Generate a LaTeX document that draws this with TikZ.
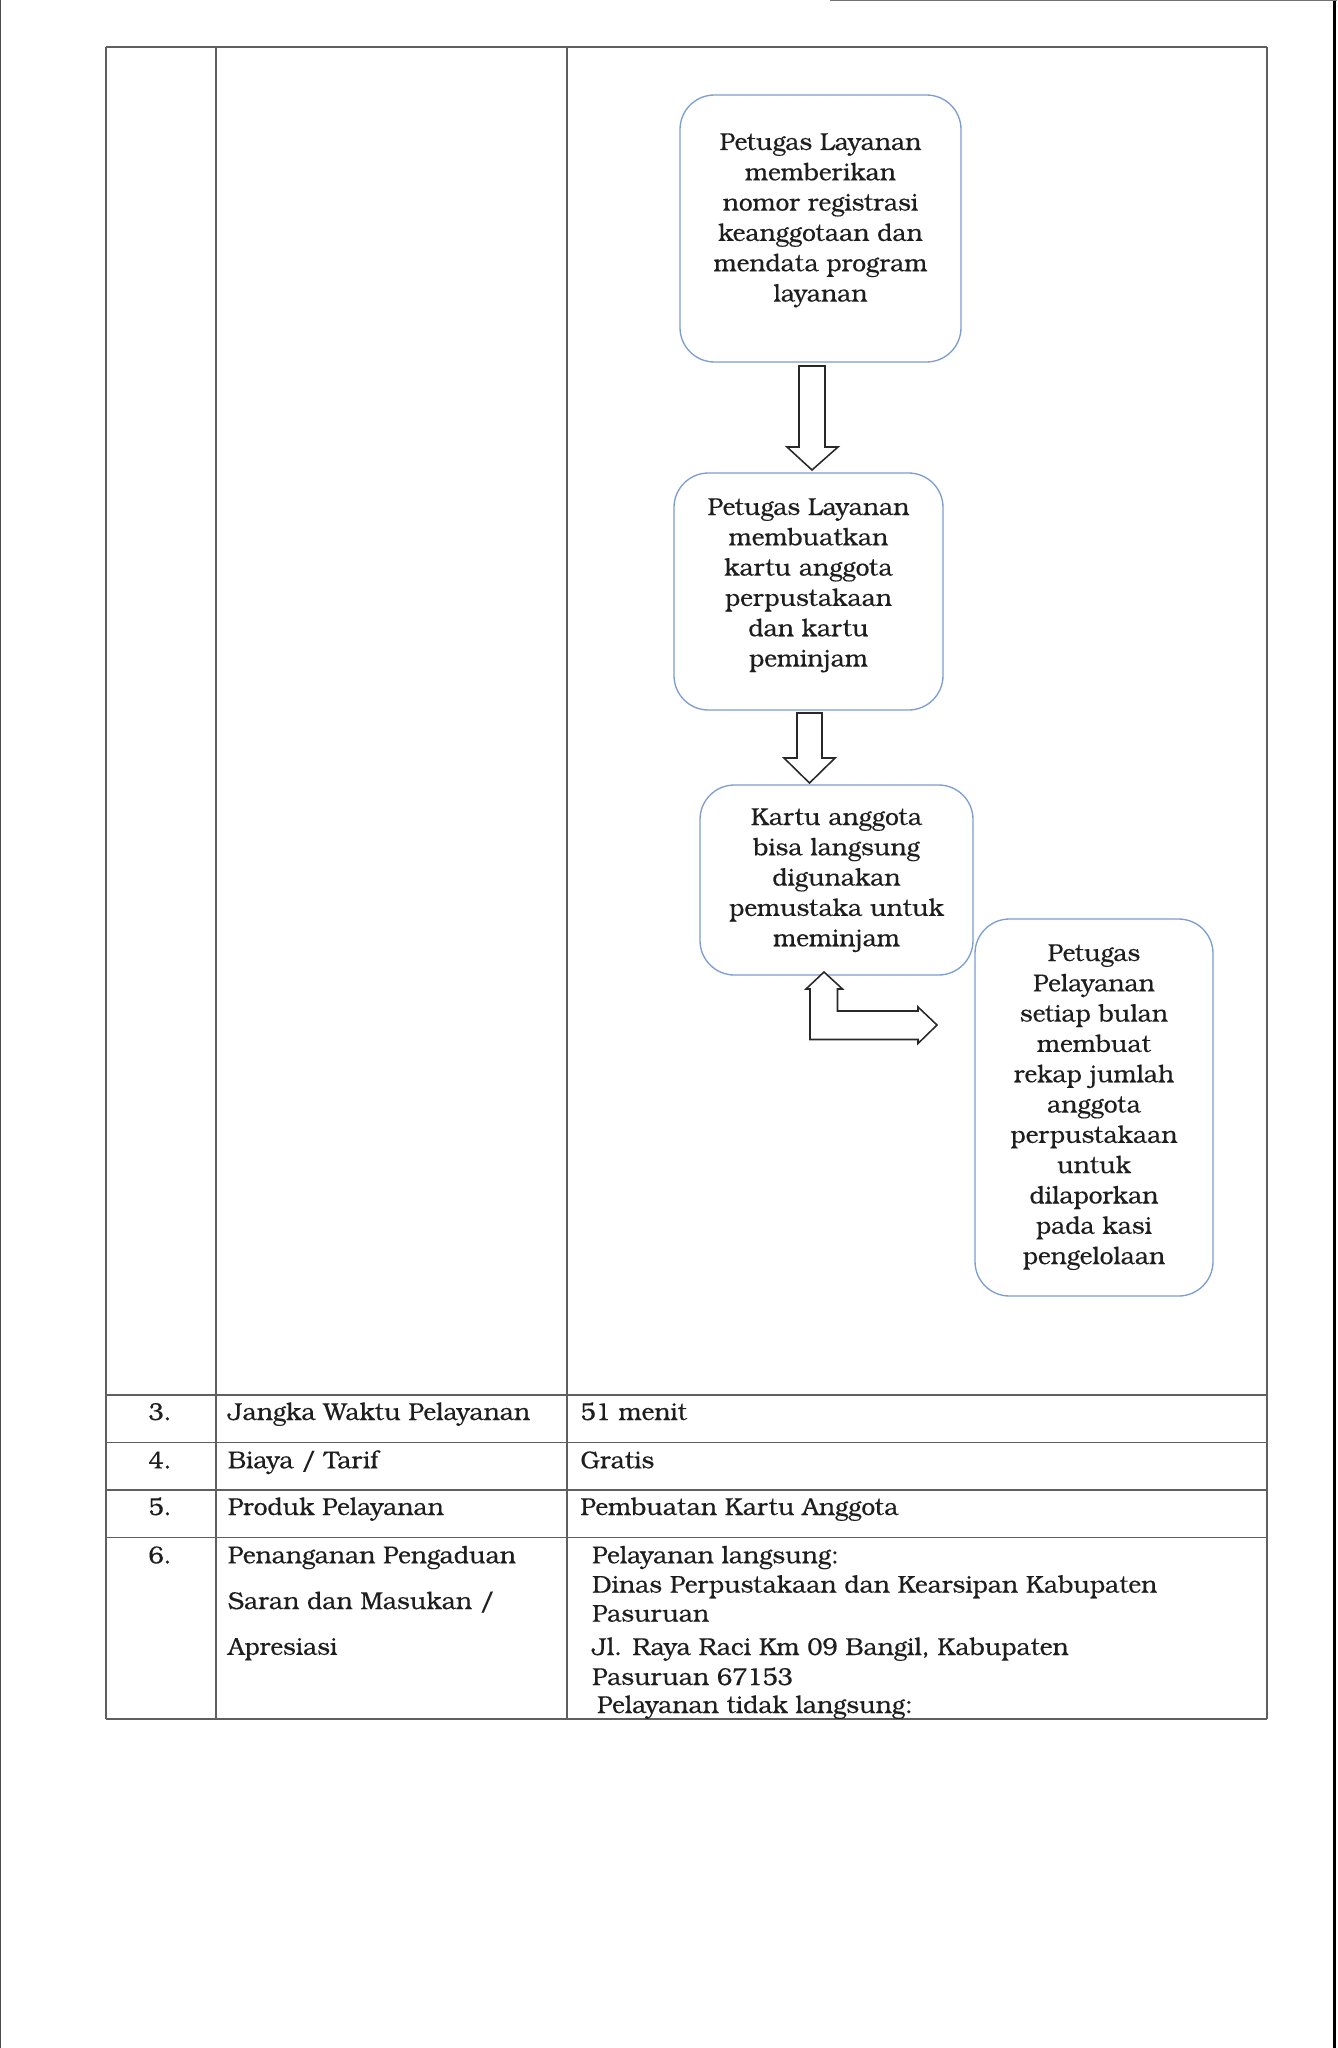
\documentclass[tikz,border=0pt]{standalone}
\usepackage{fontspec}
\setmainfont{TeX Gyre Bonum}[FakeBold=0.35]
\usetikzlibrary{fit}
\definecolor{boxblue}{RGB}{125,158,208}
\definecolor{tablegrey}{RGB}{95,95,95}
\definecolor{arrowgrey}{RGB}{40,40,40}
\definecolor{inkgrey}{RGB}{30,30,30}
\newcommand{\flowfont}{\fontsize{11}{13.64}\selectfont}
\begin{document}
\begin{tikzpicture}[x=0.45pt,y=-0.45pt,
  tline/.style={draw=tablegrey, line width=0.6pt},
  flowbox/.style={draw=boxblue, line width=0.6pt, rounded corners=15.5pt, rectangle, inner sep=0pt},
  boxtext/.style={anchor=base, inner sep=0pt, text=inkgrey, font=\flowfont},
  cell/.style={anchor=base west, inner sep=0pt, text=inkgrey, font=\flowfont},
  blockarrow/.style={draw=arrowgrey, line width=0.7pt, fill=white, line join=miter},
  scanedge/.style={draw=black!70}
]
\fill[white] (0,0) rectangle (1337,2048);
\useasboundingbox (0,0) rectangle (1337,2048);

% scan edges
\draw[scanedge, line width=0.5pt] (0.6,0) -- (0.6,2048);
\draw[draw=black, line width=1.6pt] (1334.3,0) -- (1334.3,2048);
\draw[scanedge, draw=black!55, line width=0.6pt] (830,0.7) -- (1337,0.7);

% table grid
\draw[tline] (106,47) -- (1267,47);
\draw[tline] (106,1395) -- (1267,1395);
\draw[tline] (106,1442.5) -- (1267,1442.5);
\draw[tline] (106,1490) -- (1267,1490);
\draw[tline] (106,1537.5) -- (1267,1537.5);
\draw[tline] (106,1719) -- (1267,1719);
\draw[tline] (106,47) -- (106,1719);
\draw[tline] (216,47) -- (216,1719);
\draw[tline] (567,47) -- (567,1719);
\draw[tline] (1267,47) -- (1267,1719);

% flow boxes
\node[flowbox, fit={(680,95) (961,362)}] (b1) {};
\node[flowbox, fit={(674,473) (943,710)}] (b2) {};
\node[flowbox, fit={(700,785) (973,975)}] (b3) {};
\node[flowbox, fit={(975,919) (1213,1296)}] (b4) {};

\node[boxtext] (t1) at (820.5,150) {\begin{tabular}[t]{@{}c@{}}Petugas Layanan\\memberikan\\nomor registrasi\\keanggotaan dan\\mendata program\\layanan\end{tabular}};
\node[boxtext] (t2) at (808.5,515) {\begin{tabular}[t]{@{}c@{}}Petugas Layanan\\membuatkan\\kartu anggota\\perpustakaan\\dan kartu\\peminjam\end{tabular}};
\node[boxtext] (t3) at (836.5,825) {\begin{tabular}[t]{@{}c@{}}Kartu anggota\\bisa langsung\\digunakan\\pemustaka untuk\\meminjam\end{tabular}};
\node[boxtext] (t4) at (1094,961) {\begin{tabular}[t]{@{}c@{}}Petugas\\Pelayanan\\setiap bulan\\membuat\\rekap jumlah\\anggota\\perpustakaan\\untuk\\dilaporkan\\pada kasi\\pengelolaan\end{tabular}};

% block arrows
\draw[blockarrow] (799,366) -- (825,366) -- (825,447) -- (838,447) -- (812,470) -- (787,447) -- (799,447) -- cycle;
\draw[blockarrow] (797,713) -- (822,713) -- (822,758) -- (835,758) -- (809.5,783) -- (784,758) -- (797,758) -- cycle;
\draw[blockarrow] (824,972) -- (842.5,989) -- (837.5,989) -- (837.5,1011) -- (918,1011) -- (918,1007) -- (937,1025) -- (918,1043.5) -- (918,1039.5) -- (810,1039.5) -- (810,989) -- (806,989) -- cycle;

% table text
\node[cell] (n3) at (148,1420) {3.};
\node[cell] (k3) at (227.5,1420) {Jangka Waktu Pelayanan};
\node[cell] (v3) at (580,1420) {51 menit};
\node[cell] (n4) at (148,1468.3) {4.};
\node[cell] (k4) at (227.5,1468.3) {Biaya / Tarif};
\node[cell] (v4) at (580,1468.3) {Gratis};
\node[cell] (n5) at (148,1515) {5.};
\node[cell] (k5) at (227.5,1515) {Produk Pelayanan};
\node[cell] (v5) at (580,1515) {Pembuatan Kartu Anggota};
\node[cell] (n6) at (148,1563.3) {6.};
\node[cell] (k6) at (227.5,1563.3) {\renewcommand{\arraystretch}{1.51}\begin{tabular}[t]{@{}l@{}}Penanganan Pengaduan\\Saran dan Masukan /\\Apresiasi\end{tabular}};
\node[cell] (v6a) at (591.7,1563.3) {Pelayanan langsung:};
\node[cell] (v6b) at (591.7,1592.7) {Dinas Perpustakaan dan Kearsipan Kabupaten};
\node[cell] (v6c) at (591.7,1621.7) {Pasuruan};
\node[cell] (v6d) at (591.7,1655) {Jl. Raya Raci Km 09 Bangil, Kabupaten};
\node[cell] (v6e) at (591.7,1685) {Pasuruan 67153};
\node[cell] (v6f) at (596.7,1713) {Pelayanan tidak langsung:};
\end{tikzpicture}
\end{document}
